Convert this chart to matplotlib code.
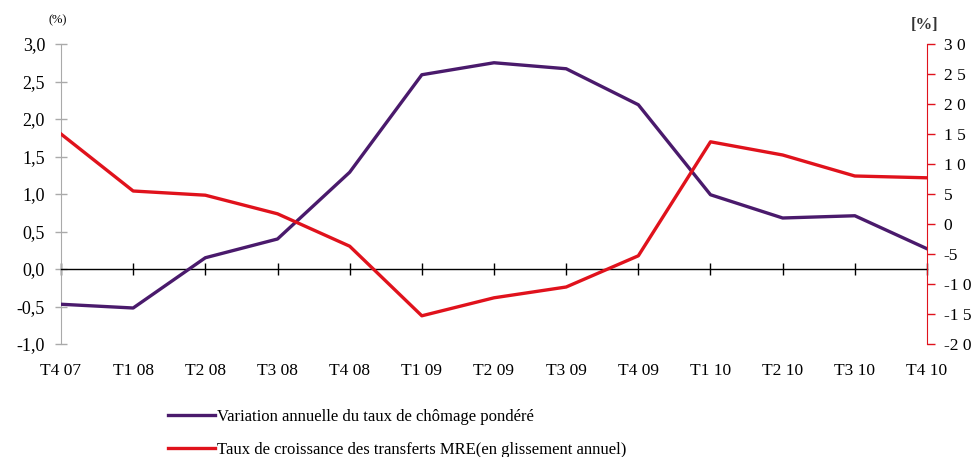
import matplotlib
matplotlib.use("Agg")
import matplotlib.pyplot as plt

categories = ["T4 07", "T1 08", "T2 08", "T3 08", "T4 08", "T1 09", "T2 09",
              "T3 09", "T4 09", "T1 10", "T2 10", "T3 10", "T4 10"]
chomage = [-0.47, -0.52, 0.15, 0.40, 1.29, 2.59, 2.75, 2.67, 2.19, 0.99, 0.68, 0.71, 0.27]
transferts = [15.0, 5.5, 4.8, 1.7, -3.7, -15.3, -12.3, -10.5, -5.3, 13.7, 11.5, 8.0, 7.7]
left_ticks = [-1.0, -0.5, 0.0, 0.5, 1.0, 1.5, 2.0, 2.5, 3.0]
left_labels = ["-1,0", "-0,5", "0,0", "0,5", "1,0", "1,5", "2,0", "2,5", "3,0"]
right_ticks = [-20, -15, -10, -5, 0, 5, 10, 15, 20, 25, 30]
right_labels = ["-2 0", "-1 5", "-1 0", "-5", "0", "5", "1 0", "1 5", "2 0", "2 5", "3 0"]
label_chomage = "Variation annuelle du taux de chômage pondéré"
label_transferts = "Taux de croissance des transferts MRE(en glissement annuel)"

PURPLE = "#4a1a6c"
RED = "#e0121c"
FONT = "Liberation Serif"

fig = plt.figure(figsize=(9.73, 4.57), dpi=100)
ax = fig.add_axes([61/973, 1-344/457, (927-61)/973, (344-44)/457])
x = list(range(len(categories)))

l1, = ax.plot(x, chomage, color=PURPLE, lw=2.4, label=label_chomage, zorder=3)
ax.set_xlim(0, len(categories)-1)
ax.set_ylim(-1.0, 3.0)
ax.set_yticks(left_ticks)
ax.set_yticklabels(left_labels, fontfamily=FONT, fontsize=13)
ax.tick_params(axis="y", direction="inout", length=9, color="#aaaaaa", width=1, pad=7)
ax.spines["left"].set_color("#aaaaaa")
ax.spines["top"].set_visible(False)
ax.spines["right"].set_visible(False)
ax.spines["bottom"].set_position(("data", 0))
ax.spines["bottom"].set_color("black")
ax.spines["bottom"].set_linewidth(1)
ax.set_xticks(x)
ax.set_xticklabels(categories, fontfamily=FONT, fontsize=12.5)
ax.tick_params(axis="x", direction="inout", length=8, color="black", width=1, pad=64)

ax2 = ax.twinx()
l2, = ax2.plot(x, transferts, color=RED, lw=2.4, label=label_transferts, zorder=3)
ax2.set_ylim(-20, 30)
ax2.set_yticks(right_ticks)
ax2.set_yticklabels(right_labels, fontfamily=FONT, fontsize=12.5)
ax2.tick_params(axis="y", direction="out", length=6, color=RED, width=1, pad=6)
for s in ["left", "top", "bottom"]:
    ax2.spines[s].set_visible(False)
ax2.spines["right"].set_color(RED)

fig.text(58/973, 1-20/457, "(%)", fontfamily=FONT, fontsize=9, ha="center", va="center")
fig.text(925/973, 1-25/457, "[%]", fontfamily=FONT, fontsize=12, fontweight="bold",
         ha="center", va="center", color="#333333")

fig.legend(handles=[l1, l2], loc="upper left", bbox_to_anchor=(153/973, 1-394/457),
           frameon=False, prop={"family": FONT, "size": 12}, handlelength=2.8,
           handletextpad=0.15, labelspacing=1.0)

fig.savefig("out.png", dpi=100)
